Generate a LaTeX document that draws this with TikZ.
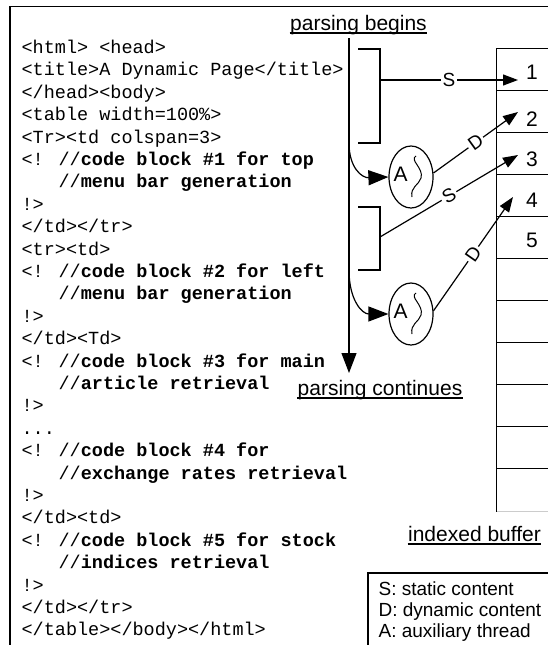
\documentclass[tikz,border=0pt]{standalone}
\usepackage{fontspec}
\setmainfont{Liberation Sans}
\newfontfamily\codefont{Liberation Mono}
\usetikzlibrary{arrows.meta,shapes.geometric}
\begin{document}
\begin{tikzpicture}[x=1pt,y=-1pt,line width=1.2pt,
  codeline/.style={anchor=base west,inner sep=0pt,font=\codefont\fontsize{18.5}{22}\selectfont},
  ulabel/.style={anchor=base,inner sep=0pt,font=\fontsize{21}{24}\selectfont},
  idx/.style={inner sep=0pt,font=\fontsize{21}{24}\selectfont},
  kind/.style={fill=white,inner sep=2pt,font=\fontsize{19}{22}\selectfont},
  thread/.style={draw,ellipse,minimum width=44pt,minimum height=62pt,inner sep=0pt},
  bigtip/.style={-{Triangle[length=20pt,width=15pt]}},
  smalltip/.style={-{Triangle[length=15pt,width=11pt]}},
  cell/.style={minimum width=61pt,minimum height=42pt,inner sep=0pt}]
\useasboundingbox (0,0) rectangle (548,645);
\clip (0,0) rectangle (548,645);

% outer frame
\draw[line width=1.6pt] (10,650) -- (10,6.5) -- (560,6.5);

% page source listing
\newcommand{\cb}[1]{\textbf{#1}}
\newcommand{\ind}{\phantom{<! }}
\node[codeline] (l1)  at (21,53.5) {<html> <head>};
\node[codeline] (l2)  at (21,75.9) {<title>A Dynamic Page</title>};
\node[codeline] (l3)  at (21,98.3) {</head><body>};
\node[codeline] (l4)  at (21,120.7) {<table width=100\%>};
\node[codeline] (l5)  at (21,143.1) {<Tr><td colspan=3>};
\node[codeline] (l6)  at (21,165.5) {<! //\cb{code block \#1 for top}};
\node[codeline] (l7)  at (21,187.9) {\ind//\cb{menu bar generation}};
\node[codeline] (l8)  at (21,210.3) {!>};
\node[codeline] (l9)  at (21,232.7) {</td></tr>};
\node[codeline] (l10) at (21,255.1) {<tr><td>};
\node[codeline] (l11) at (21,277.5) {<! //\cb{code block \#2 for left}};
\node[codeline] (l12) at (21,299.9) {\ind//\cb{menu bar generation}};
\node[codeline] (l13) at (21,322.3) {!>};
\node[codeline] (l14) at (21,344.7) {</td><Td>};
\node[codeline] (l15) at (21,367.1) {<! //\cb{code block \#3 for main}};
\node[codeline] (l16) at (21,389.5) {\ind//\cb{article retrieval}};
\node[codeline] (l17) at (21,411.9) {!>};
\node[codeline] (l18) at (21,434.3) {...};
\node[codeline] (l19) at (21,456.7) {<! //\cb{code block \#4 for}};
\node[codeline] (l20) at (21,479.1) {\ind//\cb{exchange rates retrieval}};
\node[codeline] (l21) at (21,501.5) {!>};
\node[codeline] (l22) at (21,523.9) {</td><td>};
\node[codeline] (l23) at (21,546.3) {<! //\cb{code block \#5 for stock}};
\node[codeline] (l24) at (21,568.7) {\ind//\cb{indices retrieval}};
\node[codeline] (l25) at (21,591.1) {!>};
\node[codeline] (l26) at (21,613.5) {</td></tr>};
\node[codeline] (l27) at (21,635.9) {</table></body></html>};

% underlined captions
\node[ulabel] (pb) at (358.5,30.5) {parsing begins};
\draw ([yshift=-2.5pt]pb.base west) -- ([yshift=-2.5pt]pb.base east);
\node[ulabel] (pc) at (380,395) {parsing continues};
\draw ([yshift=-3pt]pc.base west) -- ([yshift=-3pt]pc.base east);
\node[ulabel] (ib) at (474.5,541) {indexed buffer};
\draw ([yshift=-3pt]ib.base west) -- ([yshift=-3pt]ib.base east);

% parser time line
\coordinate (ps) at (349,38);
\coordinate (pe) at (349,373);
\draw[bigtip] (ps) -- (pe);

% indexed buffer cells
\foreach \i in {1,...,11}
  \node[cell] (c\i) at (527.5,{49+42*(\i-1)+21}) {};
\foreach \i in {1,...,11}
  \draw (c\i.north west) -- (c\i.north east);
\draw[gray!40] (c11.south west) -- (c11.south east);
\draw[line width=1.6pt] (c1.north west) -- (c11.south west);
\node[idx] (n1) at (532,72) {1};
\node[idx] (n2) at (532,119) {2};
\node[idx] (n3) at (532,159) {3};
\node[idx] (n4) at (532,200) {4};
\node[idx] (n5) at (532,240) {5};

% static blocks
\draw (358,49) -- (380,49) -- (380,143) -- (358,143);
\draw (358,207) -- (380,207) -- (380,270) -- (358,270);
\coordinate (s1) at (380,80);
\coordinate (s2) at (380,237);

% auxiliary threads
\node[thread] (e1) at (411,177) {};
\node[thread] (e2) at (411,314) {};
\foreach \e in {e1,e2} {
  \node[inner sep=0pt,font=\fontsize{21}{24}\selectfont] at ([xshift=-10.5pt,yshift=3pt]\e.center) {A};
  \draw[line width=1pt,shift={(\e.center)}]
    (5,-21) .. controls (-2,-17) and (13,-9) .. (10,1)
            .. controls (8,8) and (-1,10) .. (1,20);
}

% hand-off from the parser to the threads
\coordinate (k1) at (349,143);
\coordinate (k2) at (349,270);
\draw[bigtip] (k1) .. controls (349,168) and (362,178) .. (e1.west);
\draw[bigtip] (k2) .. controls (349,300) and (362,314) .. (e2.west);

% writes into the buffer
\coordinate (a1) at (518,80);
\coordinate (a2) at (518,112);
\coordinate (a3) at (518,155);
\coordinate (a4) at (513,197);
\draw[smalltip] (s1) -- node[kind] {S} (a1);
\draw[smalltip] (e1.10) -- node[kind,sloped] {D} (a2);
\draw[smalltip] (s2) -- node[kind,sloped] {S} (a3);
\draw[smalltip] (e2.8) -- node[kind,sloped] {D} (a4);

% legend
\draw (368,650) -- (368,573) -- (560,573);
\node[anchor=base west,inner sep=0pt,align=left,font=\fontsize{19}{21}\selectfont] (legend) at (378,637)
  {S: static content\\D: dynamic content\\A: auxiliary thread};
\end{tikzpicture}
\end{document}
